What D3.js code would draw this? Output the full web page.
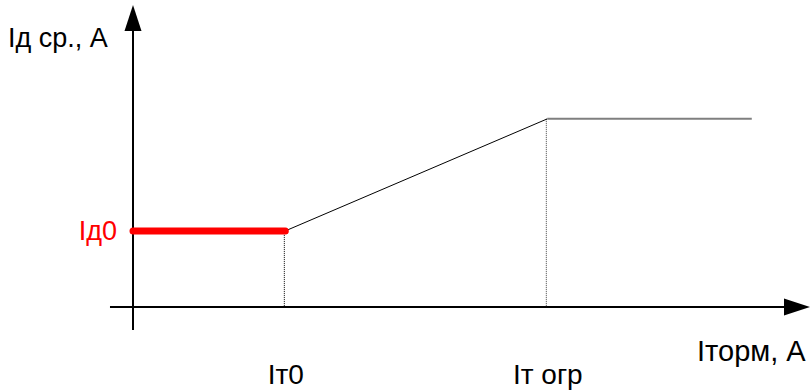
<!DOCTYPE html>
<html>
<head>
<meta charset="utf-8">
<script src="https://cdn.jsdelivr.net/npm/d3@7"></script>
<style>
  html, body { margin: 0; padding: 0; background: #fff; }
  svg { display: block; }
  text { font-family: "Liberation Sans", Arial, sans-serif; }
</style>
</head>
<body>
<svg id="chart" width="810" height="392"></svg>
<script>
// ---- data (abstract units) ----
const knotX = [0, 22.5, 61.2, 91.4];          // 0, Iт0, Iт огр, end
const knotY = [25.2, 25.2, 62.3, 62.3];       // Iд ср. characteristic
const xTickValues = [22.5, 61.2];
const xTickLabels = ["Iт0", "Iт огр"];
const yTickValues = [25.2];
const yTickLabels = ["Iд0"];
const xAxisTitle = "Iторм, А";
const yAxisTitle = "Iд ср., А";
const xAxisExtent = [-3.4, 100];
const yAxisExtent = [-7.6, 100];

const svg = d3.select("#chart");
const x = d3.scaleLinear().domain([0, 100]).range([133, 810]);
const y = d3.scaleLinear().domain([0, 100]).range([307, 5]);

// axes lines
const arrowLen = 26, arrowHalf = 8.5;
svg.append("line")
  .attr("x1", x(xAxisExtent[0])).attr("x2", x(xAxisExtent[1]) - arrowLen)
  .attr("y1", y(0)).attr("y2", y(0))
  .attr("stroke", "#000").attr("stroke-width", 2);
svg.append("path")
  .attr("d", `M${x(xAxisExtent[1])},${y(0)} L${x(xAxisExtent[1]) - arrowLen},${y(0) - arrowHalf} L${x(xAxisExtent[1]) - arrowLen},${y(0) + arrowHalf} Z`)
  .attr("fill", "#000");
svg.append("line")
  .attr("x1", x(0)).attr("x2", x(0))
  .attr("y1", y(yAxisExtent[0])).attr("y2", y(yAxisExtent[1]) + arrowLen)
  .attr("stroke", "#000").attr("stroke-width", 2);
svg.append("path")
  .attr("d", `M${x(0)},${y(yAxisExtent[1])} L${x(0) - arrowHalf},${y(yAxisExtent[1]) + arrowLen} L${x(0) + arrowHalf},${y(yAxisExtent[1]) + arrowLen} Z`)
  .attr("fill", "#000");

// dotted drop lines
[1, 2].forEach(i => {
  svg.append("line")
    .attr("x1", x(knotX[i]) - 1).attr("x2", x(knotX[i]) - 1)
    .attr("y1", y(knotY[i])).attr("y2", y(0))
    .attr("stroke", i === 1 ? "#000" : "#444").attr("stroke-width", 1)
    .attr("stroke-dasharray", "1,1");
});

const line = d3.line().x(d => x(d[0])).y(d => y(d[1]));
// sloped segment
svg.append("path")
  .attr("d", line([[knotX[1], knotY[1]], [knotX[2], knotY[2]]]))
  .attr("fill", "none").attr("stroke", "#000").attr("stroke-width", 1);
// flat top
svg.append("path")
  .attr("d", line([[knotX[2], knotY[2]], [knotX[3], knotY[3]]]))
  .attr("fill", "none").attr("stroke", "#7f7f7f").attr("stroke-width", 2);
// red initial segment
svg.append("path")
  .attr("d", line([[knotX[0], knotY[0]], [knotX[1], knotY[1]]]))
  .attr("fill", "none").attr("stroke", "#ff0000").attr("stroke-width", 7)
  .attr("stroke-linecap", "round");

// x tick labels via d3 axis
const xAxisG = svg.append("g").attr("transform", `translate(0,${y(0)})`)
  .call(d3.axisBottom(x).tickValues(xTickValues)
    .tickFormat((d, i) => xTickLabels[i]).tickSize(0).tickPadding(57));
xAxisG.select(".domain").remove();
xAxisG.selectAll("text").attr("font-size", 28).attr("font-family", "Liberation Sans, Arial, sans-serif")
  .attr("fill", "#000");

// y tick labels via d3 axis
const yAxisG = svg.append("g").attr("transform", `translate(${x(0)},0)`)
  .call(d3.axisLeft(y).tickValues(yTickValues)
    .tickFormat((d, i) => yTickLabels[i]).tickSize(0).tickPadding(16));
yAxisG.select(".domain").remove();
yAxisG.selectAll("text").attr("font-size", 27).attr("font-family", "Liberation Sans, Arial, sans-serif")
  .attr("fill", "#ff0000");

// axis titles
svg.append("text").attr("x", 8).attr("y", 47).attr("font-size", 27).attr("fill", "#000").text(yAxisTitle);
svg.append("text").attr("x", 697).attr("y", 361).attr("font-size", 29).attr("fill", "#000").text(xAxisTitle);
</script>
</body>
</html>
